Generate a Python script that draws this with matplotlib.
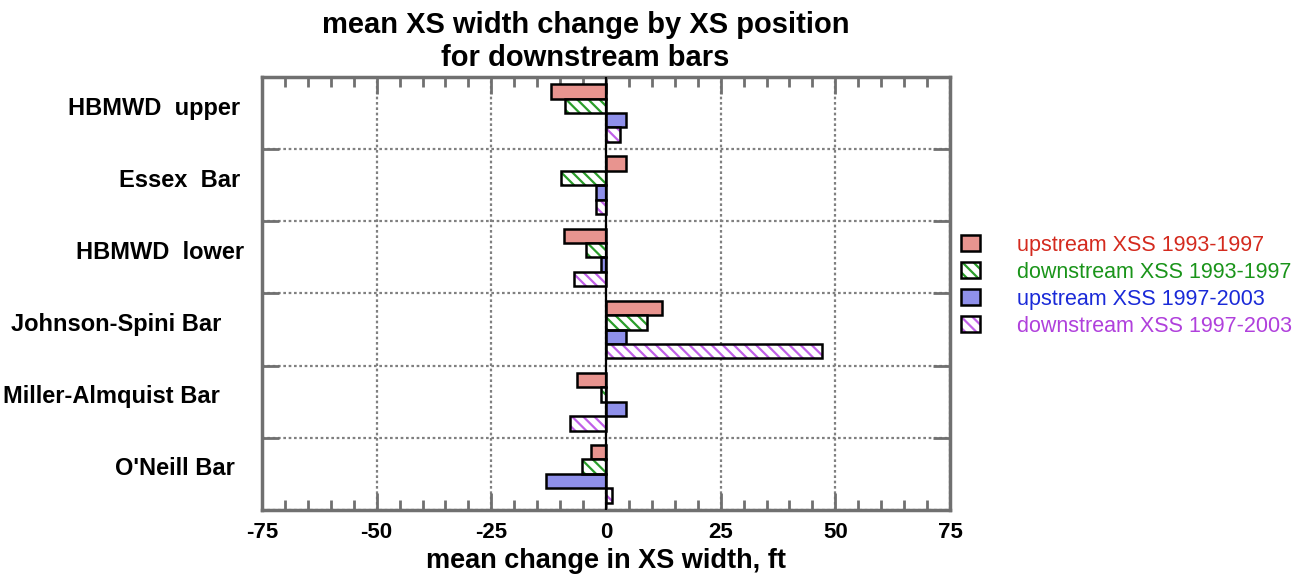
import numpy as np
from matplotlib import pyplot as plt
from matplotlib.patches import Patch
from matplotlib.transforms import ScaledTranslation

plt.rcParams['font.family'] = ['Liberation Sans', 'DejaVu Sans']
plt.rcParams['hatch.linewidth'] = 1.6
plt.rcParams['axes.unicode_minus'] = False

bars = ["HBMWD  upper", "Essex  Bar", "HBMWD  lower",
        "Johnson-Spini Bar", "Miller-Almquist Bar", "O'Neill Bar"]
series = ["upstream XSS 1993-1997", "downstream XSS 1993-1997",
          "upstream XSS 1997-2003", "downstream XSS 1997-2003"]
up_93_97 = [-12.0, 4.3, -9.1, 12.3, -6.3, -3.2]
down_93_97 = [-8.9, -9.9, -4.4, 8.9, -1.1, -5.2]
up_97_03 = [4.4, -2.1, -1.1, 4.3, 4.3, -13.1]
down_97_03 = [3.1, -2.2, -7.0, 47.2, -7.8, 1.2]

values = [up_93_97, down_93_97, up_97_03, down_97_03]
fills = ['#e8948f', 'white', '#8f90ea', 'white']
hatch_cols = [None, '#2a9d2a', None, '#c060e8']
text_cols = ['#d42a1e', '#1a941a', '#1a2ad8', '#b040dc']
HATCH = '\\\\\\'
# gap between each bar name and the left axis, in inches
label_gap = [0.22, 0.22, 0.18, 0.41, 0.42, 0.27]

fig = plt.figure(figsize=(13.08, 5.74), dpi=100)
ax = fig.add_axes([0.2003, 0.1115, 0.526, 0.7544])

y = np.arange(len(bars))
h = 0.2
for i, vals in enumerate(values):
    pos = y + (i - 1.5) * h
    if hatch_cols[i] is None:
        ax.barh(pos, vals, height=h, color=fills[i], edgecolor='black', linewidth=1.8, zorder=3)
    else:
        ax.barh(pos, vals, height=h, color='white', edgecolor=hatch_cols[i],
                hatch=HATCH, linewidth=0, zorder=3)
        ax.barh(pos, vals, height=h, fill=False, edgecolor='black', linewidth=1.8, zorder=4)

ax.axvline(0, color='black', linewidth=1.6, zorder=5)

ax.set_xlim(-75, 75)
ax.set_ylim(len(bars) - 0.5, -0.5)
ax.set_xticks(np.arange(-75, 76, 25))
ax.set_xticks(np.arange(-75, 76, 5), minor=True)
ax.set_yticks(np.arange(-0.5, len(bars), 1.0))
ax.set_yticklabels([])

for yi, name, gap in zip(y, bars, label_gap):
    tr = ax.get_yaxis_transform() + ScaledTranslation(-gap, 0.05, fig.dpi_scale_trans)
    ax.text(0, yi, name, transform=tr, ha='right', va='center',
            fontsize=17, fontweight='bold')

gc = '#707070'
ax.tick_params(axis='x', which='major', direction='in', length=12, width=2, color=gc,
               top=True, labelsize=16, pad=9)
ax.tick_params(axis='x', which='minor', direction='in', length=7, width=2, color=gc, top=True)
ax.tick_params(axis='y', which='major', direction='in', length=12, width=2, color=gc, right=True)
for lab in ax.get_xticklabels():
    lab.set_fontweight('bold')

for sp in ax.spines.values():
    sp.set_color(gc)
    sp.set_linewidth(2.5)

ax.grid(True, which='major', color='#808080', linestyle=(0, (1.2, 1.2)), linewidth=1.6, zorder=0)
ax.set_axisbelow(True)

ax.set_xlabel("mean change in XS width, ft", fontsize=19.5, fontweight='bold', labelpad=3)
ax.set_title("mean XS width change by XS position\nfor downstream bars", x=0.47,
             fontsize=21, fontweight='bold', pad=8, linespacing=1.22)

handles = []
for i in range(4):
    if hatch_cols[i] is None:
        handles.append(Patch(facecolor=fills[i], edgecolor='black', linewidth=1.8))
    else:
        handles.append((Patch(facecolor='white', edgecolor=hatch_cols[i], hatch=HATCH, linewidth=0),
                        Patch(fill=False, edgecolor='black', linewidth=1.8)))
leg = fig.legend(handles, series, loc='upper left', bbox_to_anchor=(0.735, 0.591),
                 frameon=False, fontsize=15.5, handlelength=0.85, handleheight=0.75,
                 handletextpad=1.75, labelspacing=0.28, borderaxespad=0, borderpad=0)
for txt, c in zip(leg.get_texts(), text_cols):
    txt.set_color(c)

fig.savefig('out.png', dpi=100)
